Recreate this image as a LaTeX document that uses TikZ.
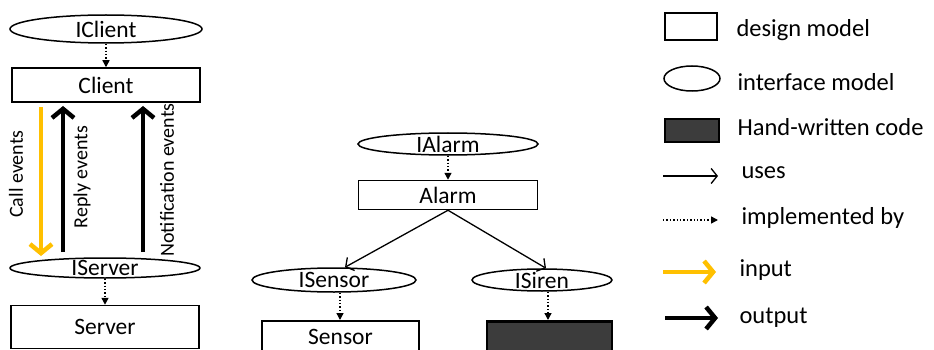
\documentclass[tikz,border=0pt]{standalone}
\usepackage{fontspec}
\setmainfont{Carlito}
\usetikzlibrary{shapes.geometric,arrows.meta}
\definecolor{inyellow}{HTML}{FFC000}
\definecolor{handdark}{HTML}{3C3C3C}
\tikzset{
  lbl/.style={font=\fontsize{23.5}{26}\selectfont},
  lglbl/.style={font=\fontsize{24.5}{27}\selectfont, anchor=west},
  evlbl/.style={font=\fontsize{20}{22}\selectfont, rotate=90},
  designbox/.style={draw, line width=1.5, rectangle, inner sep=0},
  ifell/.style={draw, line width=1.5, ellipse, inner sep=0},
  handbox/.style={draw, line width=2.6, fill=handdark, rectangle, inner sep=0},
  implby/.style={dotted, line width=1.4, -{Triangle[length=7,width=7]}},
  uses/.style={line width=1.3, -{Straight Barb[length=6,width=15]}},
  inarrow/.style={inyellow, line width=4.5, -{Straight Barb[length=9,width=22]}},
  outarrow/.style={black, line width=4.5, -{Straight Barb[length=9,width=22]}},
}
\begin{document}
\begin{tikzpicture}[x=1pt,y=-1pt]
\useasboundingbox (0,0) rectangle (934,350);
\clip (0,0) rectangle (934,350);
\fill[white] (0,0) rectangle (934,350);

% client / server pair
\node[ifell, minimum width=192, minimum height=28, label={[lbl]center:IClient}] (iclient) at (106,29) {};
\node[designbox, minimum width=188, minimum height=34, lbl] (client) at (106,85) {Client};
\node[ifell, minimum width=190, minimum height=20, label={[lbl]center:IServer}] (iserver) at (105,268) {};
\node[designbox, minimum width=188, minimum height=43, lbl] (server) at (105,327) {Server};

\draw[implby] (iclient) -- (client);
\draw[implby] (iserver) -- (server);

\coordinate (callS) at (41,107);
\coordinate (callE) at (41,256);
\coordinate (repS) at (63,252);
\coordinate (repE) at (63,106);
\coordinate (notS) at (143,252);
\coordinate (notE) at (143,106);
\draw[inarrow] (callS) -- (callE);
\draw[outarrow] (repS) -- (repE);
\draw[outarrow] (notS) -- (notE);
\node[evlbl] (calllbl) at (16,174) {Call events};
\node[evlbl] (replbl) at (82,177) {Reply events};
\node[evlbl] (notlbl) at (167,180) {Notification events};

% alarm system
\node[ifell, minimum width=180, minimum height=22, label={[lbl]center:IAlarm}] (ialarm) at (448,144) {};
\node[designbox, minimum width=179, minimum height=29, lbl] (alarm) at (448,195) {Alarm};
\node[ifell, minimum width=164, minimum height=24, label={[lbl]center:ISensor}] (isensor) at (334,280) {};
\node[ifell, minimum width=140, minimum height=22, label={[lbl]center:ISiren}] (isiren) at (542,280) {};
\node[designbox, minimum width=157, minimum height=36, anchor=north] (sensor) at (340.5,320) {};
\node[lbl] (sensorlbl) at (340.5,337) {Sensor};
\node[handbox, minimum width=125, minimum height=36, anchor=north] (siren) at (549.5,320) {};

\draw[implby] (ialarm) -- (alarm);
\draw[uses] (alarm.south) -- ([xshift=11]isensor.north);
\draw[uses] (alarm.south) -- ([xshift=4]isiren.north);
\draw[implby] ([xshift=6]isensor.south) -- ([xshift=6]isensor.south |- sensor.north);
\draw[implby] ([xshift=6]isiren.south) -- ([xshift=6]isiren.south |- siren.north);

% legend
\node[designbox, minimum width=52, minimum height=27] (lgdesign) at (691,26.5) {};
\node[lglbl] (lgdesignt) at (733,30) {design model};
\node[ifell, minimum width=56, minimum height=25] (lginterface) at (692,78.5) {};
\node[lglbl] (lginterfacet) at (734,82) {interface model};
\node[handbox, minimum width=54, minimum height=23] (lghand) at (692,130.5) {};
\node[lglbl] (lghandt) at (734,127) {Hand-written code};
\coordinate (lgusesS) at (663,176);
\coordinate (lgusesE) at (718,176);
\draw[uses] (lgusesS) -- (lgusesE);
\node[lglbl] (lgusest) at (738,173) {uses};
\coordinate (lgimplS) at (663,220);
\coordinate (lgimplE) at (718,220);
\draw[implby] (lgimplS) -- (lgimplE);
\node[lglbl] (lgimplt) at (738,218) {implemented by};
\coordinate (lginS) at (663,272);
\coordinate (lginE) at (716,272);
\draw[inarrow] (lginS) -- (lginE);
\node[lglbl] (lgint) at (736,270) {input};
\coordinate (lgoutS) at (665,318);
\coordinate (lgoutE) at (718,318);
\draw[outarrow] (lgoutS) -- (lgoutE);
\node[lglbl] (lgoutt) at (736,318) {output};
\end{tikzpicture}
\end{document}
